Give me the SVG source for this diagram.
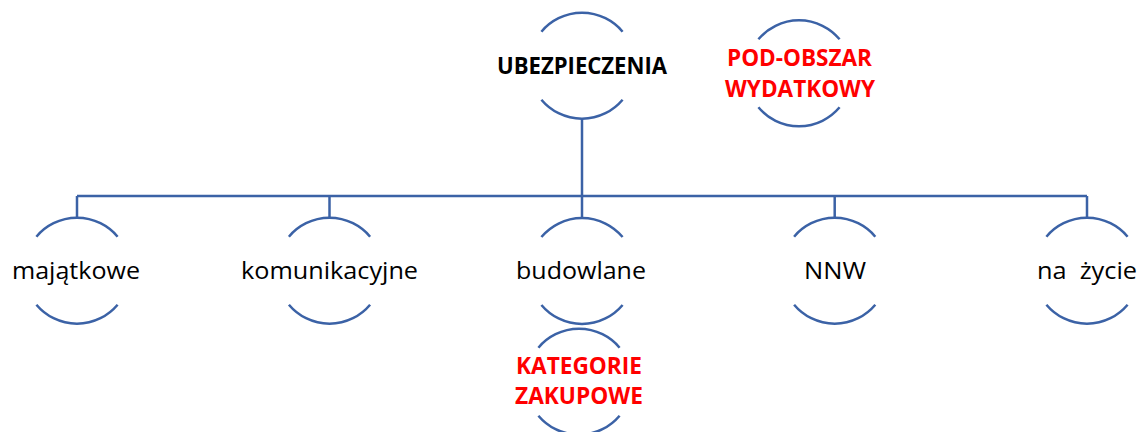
<svg xmlns="http://www.w3.org/2000/svg" width="1138" height="432" viewBox="0 0 1138 432">
  <style>
    .arc { fill: none; stroke: #3B62A6; stroke-width: 2.5; }
    .conn { fill: none; stroke: #3B62A6; stroke-width: 2.5; }
    .lbl { font-family: "Open Sans", "Liberation Sans", sans-serif; font-size: 24px; fill: #000000; text-anchor: middle; white-space: pre; }
    .bold { font-weight: bold; }
    .red { fill: #FF0000; }
    .sm { font-size: 22.5px; }
  </style>
  <defs>
    <path id="ring" d="M -40.6 -34 A 53 53 0 0 1 40.6 -34 M -40.6 34 A 53 53 0 0 0 40.6 34"/>
  </defs>
  <g id="connectors">
    <path class="conn" d="M 582 118.7 L 582 196"/>
    <path class="conn" d="M 77 196 L 1087 196"/>
    <path class="conn" d="M 77 196 L 77 217.7"/>
    <path class="conn" d="M 329.5 196 L 329.5 217.7"/>
    <path class="conn" d="M 582 196 L 582 218"/>
    <path class="conn" d="M 834.7 196 L 834.7 217.7"/>
    <path class="conn" d="M 1087 196 L 1087 217.7"/>
  </g>
  <g id="node-ubezpieczenia">
    <use href="#ring" class="arc" transform="translate(582 65.7)"/>
    <text class="lbl bold" x="582" y="73.5" textLength="170" lengthAdjust="spacingAndGlyphs">UBEZPIECZENIA</text>
  </g>
  <g id="node-pod-obszar">
    <use href="#ring" class="arc" transform="translate(799 73.3)"/>
    <text class="lbl bold red sm" x="799.5" y="66" textLength="145" lengthAdjust="spacingAndGlyphs">POD-OBSZAR</text>
    <text class="lbl bold red sm" x="800" y="97" textLength="150" lengthAdjust="spacingAndGlyphs">WYDATKOWY</text>
  </g>
  <g id="node-majatkowe">
    <use href="#ring" class="arc" transform="translate(77 270.7)"/>
    <text class="lbl" x="76" y="279" textLength="128" lengthAdjust="spacingAndGlyphs">majątkowe</text>
  </g>
  <g id="node-komunikacyjne">
    <use href="#ring" class="arc" transform="translate(329.5 270.7)"/>
    <text class="lbl" x="329.5" y="279" textLength="177" lengthAdjust="spacingAndGlyphs">komunikacyjne</text>
  </g>
  <g id="node-budowlane">
    <use href="#ring" class="arc" transform="translate(582 271)"/>
    <text class="lbl" x="581" y="279" textLength="130" lengthAdjust="spacingAndGlyphs">budowlane</text>
  </g>
  <g id="node-nnw">
    <use href="#ring" class="arc" transform="translate(834.7 270.7)"/>
    <text class="lbl" x="835" y="279" textLength="62" lengthAdjust="spacingAndGlyphs">NNW</text>
  </g>
  <g id="node-na-zycie">
    <use href="#ring" class="arc" transform="translate(1087 270.7)"/>
    <text class="lbl" x="1087" y="279" textLength="100" lengthAdjust="spacingAndGlyphs" xml:space="preserve">na  życie</text>
  </g>
  <g id="node-kategorie">
    <use href="#ring" class="arc" transform="translate(579 381.7)"/>
    <text class="lbl bold red sm" x="579" y="374" textLength="126" lengthAdjust="spacingAndGlyphs">KATEGORIE</text>
    <text class="lbl bold red sm" x="579" y="403.5" textLength="128" lengthAdjust="spacingAndGlyphs">ZAKUPOWE</text>
  </g>
</svg>
